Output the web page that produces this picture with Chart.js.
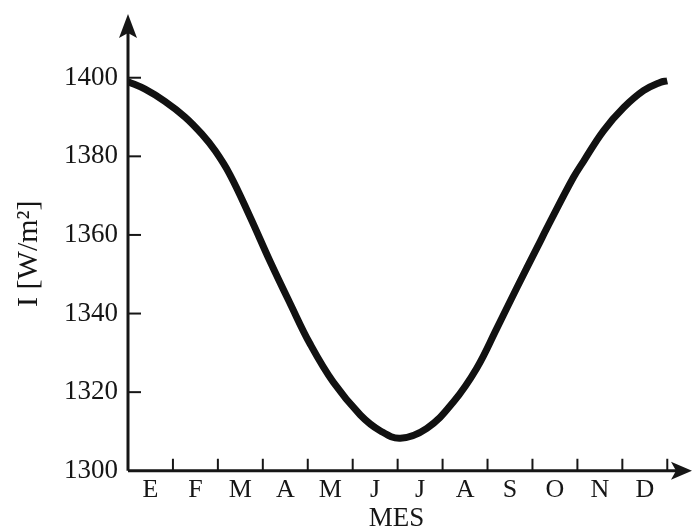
<!DOCTYPE html>
<html>
<head>
<meta charset="utf-8">
<script src="https://cdn.jsdelivr.net/npm/chart.js@4"></script>
<style>
  html, body { margin: 0; padding: 0; background: #fff; }
  #wrap { width: 692px; height: 527px; }
</style>
</head>
<body>
<div id="wrap"><canvas id="solarChart"></canvas></div>
<script>
// month initials (Spanish) and tick values
const months = ['E', 'F', 'M', 'A', 'M', 'J', 'J', 'A', 'S', 'O', 'N', 'D'];
const yTicks = [1300, 1320, 1340, 1360, 1380, 1400];

// curve: position in months (0 = start of Jan) and I in W/m2
const monthPos = [0, 0.38, 0.82, 1.27, 1.64, 1.94, 2.27, 2.72, 3.16, 3.61, 4.05, 4.57, 5.17, 5.61, 6.06,
                  6.65, 7.24, 7.76, 8.21, 8.65, 9.10, 9.40, 9.91, 10.14, 10.58, 11.03, 11.47, 11.84, 12.0];
const irradiance = [1399.0, 1397.1, 1394.0, 1390.0, 1385.7, 1381.4, 1375.3, 1364.5, 1353.3, 1342.5, 1332.3, 1322.5, 1314.2, 1310.2, 1308.3,
                    1310.8, 1317.5, 1326.1, 1336.3, 1346.5, 1356.7, 1363.5, 1374.6, 1378.8, 1386.5, 1392.4, 1396.7, 1398.8, 1399.2];

const ink = '#161616';
const nb = '\u00a0';

// axes with arrows and inward tick marks
const arrowAxes = {
    id: 'arrowAxes',
    afterDatasetsDraw(chart) {
        const { ctx, chartArea: a, scales: { x, y } } = chart;
        ctx.save();
        ctx.strokeStyle = ink;
        ctx.fillStyle = ink;

        // y ticks
        ctx.lineWidth = 2;
        yTicks.forEach(v => {
            if (v === 1300) return;
            const py = y.getPixelForValue(v);
            ctx.beginPath();
            ctx.moveTo(a.left, py);
            ctx.lineTo(a.left + 13, py);
            ctx.stroke();
        });
        // x ticks at month boundaries
        for (let m = 1; m <= months.length; m++) {
            const px = x.getPixelForValue(m);
            ctx.beginPath();
            ctx.moveTo(px, a.bottom);
            ctx.lineTo(px, a.bottom - 12);
            ctx.stroke();
        }

        // axis lines
        ctx.lineWidth = 3;
        ctx.beginPath();
        ctx.moveTo(a.left, a.bottom);
        ctx.lineTo(a.left, a.top + 15);
        ctx.moveTo(a.left, a.bottom);
        ctx.lineTo(a.right - 15, a.bottom);
        ctx.stroke();

        // arrow heads
        ctx.beginPath();
        ctx.moveTo(a.left, a.top);
        ctx.lineTo(a.left - 9, a.top + 24);
        ctx.lineTo(a.left, a.top + 19);
        ctx.lineTo(a.left + 9, a.top + 24);
        ctx.closePath();
        ctx.fill();

        ctx.beginPath();
        ctx.moveTo(a.right, a.bottom);
        ctx.lineTo(a.right - 21, a.bottom - 9);
        ctx.lineTo(a.right - 16, a.bottom);
        ctx.lineTo(a.right - 21, a.bottom + 9);
        ctx.closePath();
        ctx.fill();
        ctx.restore();
    }
};

document.addEventListener('DOMContentLoaded', function() {
    const ctx = document.getElementById('solarChart');
    new Chart(ctx, {
        type: 'line',
        data: {
            datasets: [{
                data: monthPos.map((m, i) => ({ x: m, y: irradiance[i] })),
                borderColor: '#111',
                borderWidth: 7,
                pointRadius: 0,
                tension: 0.4,
                fill: false
            }]
        },
        options: {
            responsive: true,
            maintainAspectRatio: false,
            animation: false,
            layout: { padding: { left: 11, right: 0, top: 0, bottom: 0 } },
            plugins: { legend: { display: false }, tooltip: { enabled: false } },
            scales: {
                x: {
                    type: 'linear',
                    min: 0,
                    max: 12.55,
                    afterBuildTicks: axis => { axis.ticks = months.map((m, i) => ({ value: i + 0.5 })); },
                    grid: { display: false, drawTicks: false },
                    border: { display: false },
                    ticks: {
                        autoSkip: false,
                        maxRotation: 0,
                        padding: 10,
                        color: ink,
                        font: { family: 'Liberation Serif', size: 26, lineHeight: 0.75 },
                        callback: (v, i) => months[i]
                    },
                    title: {
                        display: true,
                        // trailing spaces nudge the centred word left, as in the source
                        text: 'MES' + nb.repeat(4),
                        color: ink,
                        font: { family: 'Liberation Serif', size: 27, lineHeight: 0.62 },
                        padding: { top: 0, bottom: 0 }
                    }
                },
                y: {
                    min: 1300,
                    max: 1416.2,
                    afterBuildTicks: axis => { axis.ticks = yTicks.map(v => ({ value: v })); },
                    grid: { display: false, drawTicks: false },
                    border: { display: false },
                    ticks: {
                        padding: 10,
                        color: ink,
                        font: { family: 'Liberation Serif', size: 27, lineHeight: 0.3 },
                        callback: v => String(v)
                    },
                    title: {
                        display: true,
                        text: 'I [W/m²]' + nb.repeat(3),
                        color: ink,
                        font: { family: 'Liberation Serif', size: 30 },
                        padding: { top: 0, bottom: 7 }
                    }
                }
            }
        },
        plugins: [arrowAxes]
    });
});
</script>
</body>
</html>
